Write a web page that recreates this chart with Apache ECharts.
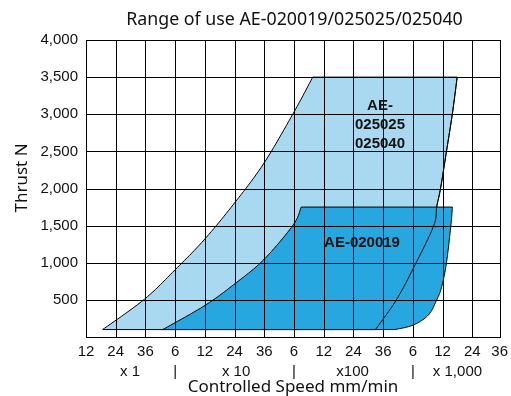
<!DOCTYPE html>
<html>
<head>
<meta charset="utf-8">
<script src="https://cdn.jsdelivr.net/npm/echarts@6/dist/echarts.min.js"></script>
<style>
html,body{margin:0;padding:0;background:#fff;}
#c{width:511px;height:396px;}
</style>
</head>
<body>
<div id="c"></div>
<script>
// ---- data (x in grid-step units: 0 = first "12" tick) ----
const xTickLabels = ['12','24','36','6','12','24','36','6','12','24','36','6','12','24','36'];
const xMax = 13.92;
const scaleLabelPos = [1.48, 3, 5.05, 7, 8.97, 11, 12.5];
const scaleLabels = ['x 1', '|', 'x 10', '|', 'x100', '|', 'x 1,000'];
const yStep = 500;
const yMax = 4000;
const yTickLabels = ['', '500', '1,000', '1,500', '2,000', '2,500', '3,000', '3,500', '4,000'];

// AE-025025 / 025040 (light region)
const lightLeftX  = [0.56, 1.97, 2.99, 3.97, 4.97, 5.97, 6.97, 7.63];
const lightLeftY  = [100, 510, 902, 1307, 1791, 2330, 3009, 3500];
const lightRightX = [12.49, 12.33, 12.13, 11.93, 11.8, 11.71, 11.11, 10.44, 9.74];
const lightRightY = [3500, 3010, 2500, 2000, 1750, 1508, 1000, 498, 100];

// AE-020019 (dark region)
const darkLeftX  = [2.58, 3.97, 4.97, 5.97, 6.97, 7.24];
const darkLeftY  = [100, 417, 705, 1037, 1508, 1750];
const darkRightX = [12.33, 12.28, 12.13, 11.97, 11.8, 11.52, 11.02, 10.4];
const darkRightY = [1750, 1508, 1000, 677, 498, 296, 162, 100];

const lightColor = '#a9d9f1';
const darkColor = '#27a7df';

function spline(pts, steps) {
  const n = pts.length, out = [pts[0]];
  for (let i = 0; i < n - 1; i++) {
    const p0 = pts[Math.max(i - 1, 0)], p1 = pts[i], p2 = pts[i + 1], p3 = pts[Math.min(i + 2, n - 1)];
    const c1 = [p1[0] + (p2[0] - p0[0]) / 6, p1[1] + (p2[1] - p0[1]) / 6];
    const c2 = [p2[0] - (p3[0] - p1[0]) / 6, p2[1] - (p3[1] - p1[1]) / 6];
    for (let s = 1; s <= steps; s++) {
      const t = s / steps, u = 1 - t;
      out.push([
        u*u*u*p1[0] + 3*u*u*t*c1[0] + 3*u*t*t*c2[0] + t*t*t*p2[0],
        u*u*u*p1[1] + 3*u*u*t*c1[1] + 3*u*t*t*c2[1] + t*t*t*p2[1]
      ]);
    }
  }
  return out;
}
function px(api, xs, ys) { return xs.map((x, i) => api.coord([x, ys[i]])); }

function shapeSeries(leftX, leftY, rightX, rightY, fill) {
  return {
    type: 'custom', z: 2,
    data: [[0, 0]],
    renderItem: function (params, api) {
      const pts = spline(px(api, leftX, leftY), 12).concat(spline(px(api, rightX, rightY), 12));
      return { type: 'polygon', shape: { points: pts },
        style: { fill: fill, stroke: '#000', lineWidth: 1 } };
    }
  };
}

// grid lines at the axis ticks (through the axis scale), drawn as 1px filled bars over the regions
function gridBars(api) {
  const out = [];
  const top = api.coord([0, yMax])[1], bottom = api.coord([0, 0])[1];
  const left = api.coord([0, 0])[0], right = api.coord([xMax, 0])[0];
  xTickLabels.forEach((_, i) => {
    const x = Math.round(api.coord([Math.min(i, xMax), 0])[0]);
    out.push({ type: 'rect', shape: { x: x, y: Math.round(top), width: 1, height: Math.round(bottom) - Math.round(top) + 1 },
      style: { fill: '#000' } });
  });
  yTickLabels.forEach((_, i) => {
    const y = Math.round(api.coord([0, i * yStep])[1]);
    out.push({ type: 'rect', shape: { x: Math.round(left), y: y, width: Math.round(right) - Math.round(left) + 1, height: 1 },
      style: { fill: '#000' } });
  });
  return out;
}

const chart = echarts.init(document.getElementById('c'), null, { renderer: 'canvas' });
const labelFont = 'Liberation Sans';
chart.setOption({
  animation: false,
  backgroundColor: '#fff',
  grid: { left: 86, right: 7.5, top: 40, bottom: 59 },
  xAxis: [{
    type: 'value', min: 0, max: xMax, interval: 1,
    axisLine: { show: false },
    axisTick: { show: false },
    splitLine: { show: false },
    axisLabel: { margin: 7, color: '#111', fontFamily: labelFont, fontSize: 15,
      formatter: v => xTickLabels[Math.round(v)] }
  }, {
    type: 'value', min: 0, max: xMax, position: 'bottom',
    axisLine: { show: false }, axisTick: { show: false }, splitLine: { show: false },
    axisLabel: { margin: 27, color: '#111', fontFamily: labelFont, fontSize: 15,
      customValues: scaleLabelPos,
      formatter: v => { const i = scaleLabelPos.findIndex(p => Math.abs(p - v) < 1e-6); return i >= 0 ? scaleLabels[i] : ''; } }
  }],
  yAxis: {
    type: 'value', min: 0, max: yMax, interval: yStep,
    axisLine: { show: false },
    axisTick: { show: false },
    splitLine: { show: false },
    axisLabel: { margin: 8, color: '#111', fontFamily: labelFont, fontSize: 15,
      formatter: v => yTickLabels[Math.round(v / yStep)] }
  },
  series: [
    shapeSeries(lightLeftX, lightLeftY, lightRightX, lightRightY, lightColor),
    shapeSeries(darkLeftX, darkLeftY, darkRightX, darkRightY, darkColor),
    {
      type: 'custom', z: 3,
      data: [[0, 0]],
      renderItem: function (params, api) {
        const ch = [{ type: 'polyline', shape: { points: spline(px(api, lightRightX, lightRightY), 12) },
          style: { fill: null, stroke: '#000', lineWidth: 1 } }].concat(gridBars(api));
        return { type: 'group', children: ch };
      }
    }
  ],
  graphic: [
    { type: 'text', x: 294.5, y: 20, z: 100, style: { text: 'Range of use AE-020019/025025/025040',
      font: '17.8px "Noto Sans"', fill: '#111', align: 'center', verticalAlign: 'middle' } },
    { type: 'text', x: 293, y: 387, z: 100, style: { text: 'Controlled Speed mm/min',
      font: '17px "Noto Sans"', fill: '#111', align: 'center', verticalAlign: 'middle' } },
    { type: 'text', x: 22, y: 178, rotation: Math.PI / 2, z: 100, style: { text: 'Thrust N',
      font: '17px "Noto Sans"', fill: '#111', align: 'center', verticalAlign: 'middle' } },
    { type: 'text', x: 380, y: 124.5, z: 100, style: { text: 'AE-\n025025\n025040', lineHeight: 19,
      font: 'bold 15px "Liberation Sans"', fill: '#111', align: 'center', verticalAlign: 'middle' } },
    { type: 'text', x: 362, y: 243, z: 100, style: { text: 'AE-020019',
      font: 'bold 15px "Liberation Sans"', fill: '#111', align: 'center', verticalAlign: 'middle' } }
  ]
});
</script>
</body>
</html>
